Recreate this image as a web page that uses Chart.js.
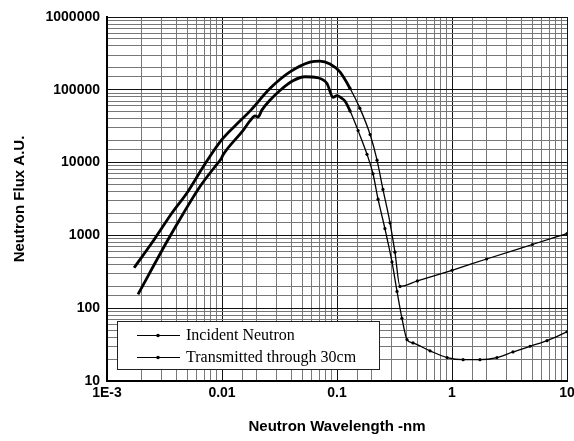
<!DOCTYPE html>
<html>
<head>
<meta charset="utf-8">
<script src="https://cdn.jsdelivr.net/npm/chart.js@4.4.1/dist/chart.umd.min.js"></script>
<style>
  html, body { margin: 0; padding: 0; background: #fff; }
  #chart { display: block; }
</style>
</head>
<body>
<canvas id="chart" width="574" height="441"></canvas>
<script>
// values (wavelength in nm, flux in A.U.)
const incidentX = [0.00172, 0.00261, 0.00367, 0.00506, 0.00711, 0.01, 0.0138, 0.0175, 0.0261,
  0.039, 0.0582, 0.0711, 0.0869, 0.106, 0.13, 0.158, 0.194, 0.223, 0.251, 0.289, 0.319, 0.353,
  0.5, 1, 2, 5, 10];
const incidentY = [359, 908, 2030, 4020, 9570, 20800, 35200, 51000, 104000,
  176000, 240000, 248000, 226000, 176000, 104000, 56000, 24300, 10800, 4280, 1490, 589, 199,
  237, 332, 474, 750, 1060];

const transX = [0.00186, 0.00339, 0.00458, 0.00644, 0.00906, 0.0098, 0.0102, 0.0152, 0.0175,
  0.0194, 0.0206, 0.0222, 0.0261, 0.0319, 0.0414, 0.0527, 0.067, 0.0818, 0.0923, 0.1, 0.108,
  0.1175, 0.13, 0.1525, 0.1824, 0.2056, 0.2276, 0.261, 0.3006, 0.3327, 0.367, 0.406, 0.458,
  0.644, 0.906, 1.25, 1.75, 2.46, 3.39, 4.77, 6.7, 10];
const transY = [155, 870, 1970, 4700, 9570, 11200, 12700, 27500, 37400,
  43700, 42400, 52600, 71800, 97900, 133000, 151000, 147000, 122000, 79000, 83000, 78000,
  69600, 51000, 27500, 13000, 7030, 3140, 1240, 432, 170, 72.8, 37.1, 33.3,
  26.0, 21.0, 19.6, 19.6, 21.0, 25.1, 30.0, 35.8, 47.5];

const seriesNames = ['Incident Neutron', 'Transmitted through 30cm'];
const xTickLabels = ['1E-3', '0.01', '0.1', '1', '10'];
const yTickLabels = ['10', '100', '1000', '10000', '100000', '1000000'];

const toPoints = (xs, ys) => xs.map((x, i) => ({ x, y: ys[i] }));

const decade = (value) => {
  const e = Math.log10(value);
  return Math.abs(e - Math.round(e)) < 1e-6 ? Math.round(e) : null;
};

const gridColor = (ctx) => (decade(ctx.tick.value) !== null ? '#111' : '#777');

const curveStyle = {
  borderColor: '#000',
  backgroundColor: '#000',
  fill: false,
  cubicInterpolationMode: 'monotone',
  pointRadius: (ctx) => (ctx.raw && ctx.raw.x >= 0.12 ? 1.6 : 0),
  pointBorderWidth: 0,
  segment: {
    borderWidth: (ctx) => (ctx.p0.parsed.x < 0.12 ? 2.8 : 1.3),
  },
};

// legend drawn inside the plot, lower left, like the original
const boxLegend = {
  id: 'boxLegend',
  afterDraw(chart) {
    const { ctx, chartArea } = chart;
    const left = chartArea.left + 10;
    const bottom = chartArea.bottom - 12;
    const width = 262;
    const height = 48;
    const top = bottom - height;
    ctx.save();
    ctx.fillStyle = '#fff';
    ctx.fillRect(left, top, width, height);
    ctx.strokeStyle = '#222';
    ctx.lineWidth = 1;
    ctx.strokeRect(left + 0.5, top + 0.5, width, height);
    ctx.font = '16px "Liberation Serif", "Times New Roman", serif';
    ctx.textBaseline = 'middle';
    chart.data.datasets.forEach((ds, i) => {
      const y = top + 14 + i * 22;
      ctx.strokeStyle = '#000';
      ctx.lineWidth = 1;
      ctx.beginPath();
      ctx.moveTo(left + 20, y + 0.5);
      ctx.lineTo(left + 63, y + 0.5);
      ctx.stroke();
      ctx.fillStyle = '#000';
      ctx.beginPath();
      ctx.arc(left + 41, y + 0.5, 1.8, 0, Math.PI * 2);
      ctx.fill();
      ctx.fillText(ds.label, left + 69, y + 1);
    });
    ctx.restore();
  },
};

const tickFont = { family: '"Liberation Sans", Arial, sans-serif', size: 14, weight: 'bold' };
const titleFont = { family: '"Liberation Sans", Arial, sans-serif', size: 15, weight: 'bold' };

new Chart(document.getElementById('chart'), {
  type: 'line',
  data: {
    datasets: [
      { label: seriesNames[0], data: toPoints(incidentX, incidentY), ...curveStyle },
      { label: seriesNames[1], data: toPoints(transX, transY), ...curveStyle },
    ],
  },
  options: {
    responsive: false,
    animation: false,
    devicePixelRatio: 1,
    layout: { padding: { left: 0, right: 7, top: 17, bottom: 0 } },
    plugins: {
      legend: { display: false },
      tooltip: { enabled: false },
    },
    scales: {
      x: {
        type: 'logarithmic',
        min: 0.001,
        max: 10,
        afterFit: (scale) => {
          scale.height = 60;
          scale.paddingLeft = 0;
          scale.paddingRight = 0;
        },
        grid: { color: gridColor, lineWidth: 1, drawTicks: false },
        border: { display: true, color: '#000', width: 2 },
        ticks: {
          autoSkip: false,
          maxRotation: 0,
          padding: 4,
          color: '#000',
          font: tickFont,
          callback: (value) => {
            const e = decade(value);
            return e === null ? '' : xTickLabels[e + 3];
          },
        },
        title: {
          display: true,
          text: 'Neutron Wavelength -nm',
          color: '#000',
          font: titleFont,
          padding: { top: 0, bottom: 5 },
        },
      },
      y: {
        type: 'logarithmic',
        min: 10,
        max: 1000000,
        afterFit: (scale) => {
          scale.width = 107;
          scale.paddingTop = 0;
          scale.paddingBottom = 0;
        },
        grid: { color: gridColor, lineWidth: 1, drawTicks: false },
        border: { display: true, color: '#000', width: 2 },
        ticks: {
          autoSkip: false,
          padding: 7,
          color: '#000',
          font: tickFont,
          callback: (value) => {
            const e = decade(value);
            return e === null ? '' : yTickLabels[e - 1];
          },
        },
        title: {
          display: true,
          text: 'Neutron Flux A.U.',
          color: '#000',
          font: titleFont,
          padding: { top: 11, bottom: 0 },
        },
      },
    },
  },
  plugins: [boxLegend],
});
</script>
</body>
</html>
